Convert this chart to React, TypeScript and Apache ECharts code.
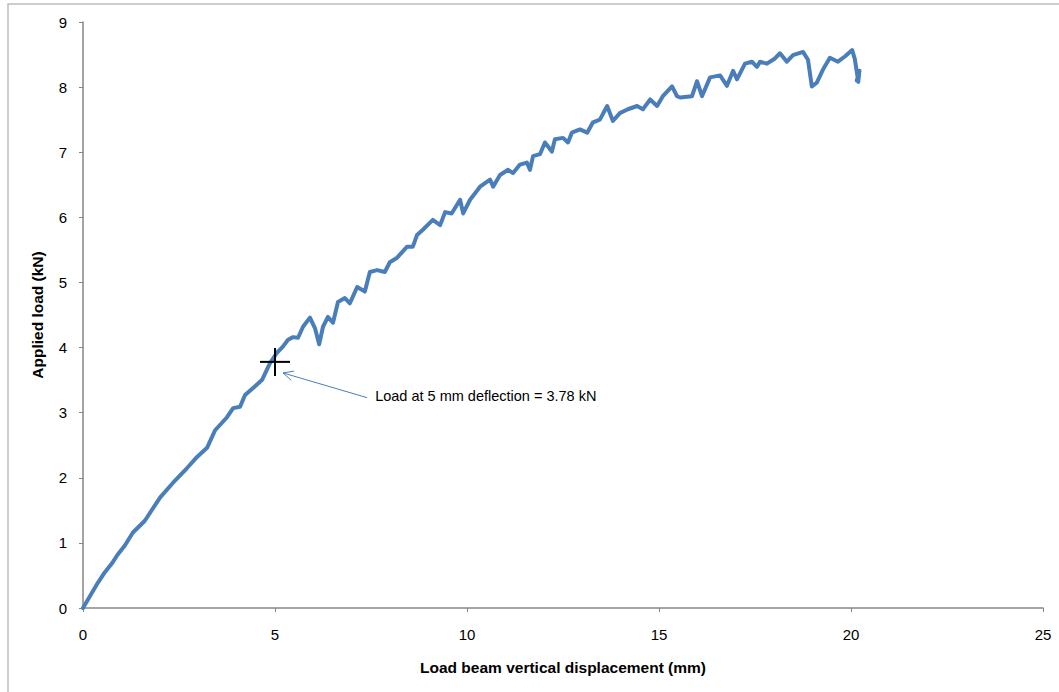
import React, { useEffect, useRef } from "react";
import * as echarts from "echarts";

const xTicks = [0, 5, 10, 15, 20, 25];
const yTicks = [0, 1, 2, 3, 4, 5, 6, 7, 8, 9];

const displacement = [
  0, 0.39, 0.57, 0.76, 0.89, 1.09, 1.3, 1.61, 2.01, 2.34, 2.71, 2.97, 3.23, 3.44, 3.75, 3.91, 4.09, 4.22, 4.43, 4.66,
  4.87, 5.05, 5.2, 5.34, 5.47, 5.6, 5.73, 5.91, 6.04, 6.15, 6.25, 6.38, 6.51, 6.64, 6.82, 6.95, 7.14, 7.34, 7.47, 7.66,
  7.86, 7.99, 8.18, 8.44, 8.59, 8.7, 8.85, 9.11, 9.3, 9.43, 9.6, 9.82, 9.9, 10.08, 10.34, 10.6, 10.68, 10.86, 11.07, 11.2,
  11.38, 11.56, 11.64, 11.72, 11.9, 12.03, 12.21, 12.29, 12.5, 12.63, 12.73, 12.94, 13.13, 13.28, 13.46, 13.65, 13.8, 13.98, 14.19, 14.43,
  14.58, 14.77, 14.95, 15.1, 15.34, 15.47, 15.55, 15.86, 15.99, 16.12, 16.33, 16.59, 16.77, 16.93, 17.03, 17.24, 17.42, 17.55, 17.63, 17.81,
  18.02, 18.15, 18.33, 18.49, 18.75, 18.88, 18.98, 19.11, 19.27, 19.45, 19.66, 19.84, 20.03, 20.1, 20.16, 20.18, 20.22, 20.15, 20.21, 20.19,
];
const load = [
  0, 0.39, 0.55, 0.69, 0.81, 0.96, 1.16, 1.34, 1.7, 1.92, 2.15, 2.32, 2.46, 2.73, 2.93, 3.07, 3.09, 3.27, 3.38, 3.5,
  3.76, 3.92, 4.01, 4.12, 4.16, 4.15, 4.32, 4.46, 4.3, 4.05, 4.32, 4.47, 4.38, 4.7, 4.76, 4.68, 4.93, 4.86, 5.16, 5.19,
  5.16, 5.31, 5.38, 5.55, 5.55, 5.73, 5.81, 5.96, 5.88, 6.08, 6.06, 6.27, 6.06, 6.27, 6.47, 6.58, 6.47, 6.65, 6.73, 6.68,
  6.81, 6.84, 6.73, 6.94, 6.97, 7.15, 7.01, 7.2, 7.22, 7.15, 7.3, 7.35, 7.3, 7.46, 7.5, 7.71, 7.48, 7.6, 7.66, 7.71,
  7.66, 7.81, 7.71, 7.86, 8.01, 7.86, 7.84, 7.86, 8.09, 7.86, 8.15, 8.18, 8.02, 8.25, 8.12, 8.36, 8.39, 8.31, 8.39, 8.36,
  8.44, 8.52, 8.39, 8.49, 8.54, 8.42, 8.01, 8.07, 8.27, 8.45, 8.39, 8.47, 8.57, 8.43, 8.2, 8.12, 8.25, 8.1, 8.2, 8.08,
];

const markerPoint = [5, 3.78];
const arrowTail = [7.4, 3.23];
const arrowTip = [5.21, 3.61];
const annotationText = "Load at 5 mm deflection = 3.78 kN";

const FONT = "'Liberation Sans', Arial, sans-serif";

export default function App() {
  const ref = useRef<HTMLDivElement>(null);
  useEffect(() => {
    if (!ref.current) return;
    const chart = echarts.init(ref.current, null, { renderer: "svg" });
    const data = displacement.map((d, i) => [d, load[i]]);
    chart.setOption({
      animation: false,
      backgroundColor: "#ffffff",
      textStyle: { fontFamily: FONT },
      grid: { left: 83, right: 16, top: 22, bottom: 84 },
      xAxis: {
        type: "value",
        min: xTicks[0],
        max: xTicks[xTicks.length - 1],
        interval: 5,
        name: "Load beam vertical displacement (mm)",
        nameLocation: "middle",
        nameGap: 51,
        nameTextStyle: { fontWeight: "bold", fontSize: 15.5, color: "#000", fontFamily: FONT },
        axisLine: { lineStyle: { color: "#868686", width: 1.5 } },
        axisTick: { length: 4, lineStyle: { color: "#868686" } },
        axisLabel: { margin: 19, fontSize: 15, color: "#000", fontFamily: FONT },
        splitLine: { show: false },
      },
      yAxis: {
        type: "value",
        min: yTicks[0],
        max: yTicks[yTicks.length - 1],
        interval: 1,
        name: "Applied load (kN)",
        nameLocation: "middle",
        nameGap: 38,
        nameRotate: 90,
        nameTextStyle: { fontWeight: "bold", fontSize: 15.5, color: "#000", fontFamily: FONT },
        axisLine: { show: true, lineStyle: { color: "#868686", width: 1.5 } },
        axisTick: { show: true, length: 4, lineStyle: { color: "#868686" } },
        axisLabel: { margin: 16, fontSize: 15, color: "#000", fontFamily: FONT },
        splitLine: { show: false },
      },
      series: [
        {
          type: "line",
          data,
          showSymbol: false,
          symbol: "none",
          lineStyle: { color: "#4a7ebb", width: 4, join: "round", cap: "round" },
        },
      ],
    });

    const p = chart.convertToPixel({ seriesIndex: 0 }, markerPoint) as number[];
    const tail = chart.convertToPixel({ seriesIndex: 0 }, arrowTail) as number[];
    const tip = chart.convertToPixel({ seriesIndex: 0 }, arrowTip) as number[];
    const ang = Math.atan2(tip[1] - tail[1], tip[0] - tail[0]);
    const headLen = 11;
    const spread = 0.45;
    const h1 = [tip[0] - headLen * Math.cos(ang - spread), tip[1] - headLen * Math.sin(ang - spread)];
    const h2 = [tip[0] - headLen * Math.cos(ang + spread), tip[1] - headLen * Math.sin(ang + spread)];

    chart.setOption({
      graphic: [
        {
          type: "rect",
          shape: { x: 8, y: 4, width: 1100, height: 720 },
          style: { fill: "none", stroke: "#bdbdbd", lineWidth: 1.5 },
          silent: true,
        },
        {
          type: "line",
          shape: { x1: p[0] - 15, y1: p[1], x2: p[0] + 15, y2: p[1] },
          style: { stroke: "#000", lineWidth: 2 },
          z: 10,
        },
        {
          type: "line",
          shape: { x1: p[0], y1: p[1] - 14, x2: p[0], y2: p[1] + 14 },
          style: { stroke: "#000", lineWidth: 2 },
          z: 10,
        },
        {
          type: "line",
          shape: { x1: tail[0], y1: tail[1], x2: tip[0], y2: tip[1] },
          style: { stroke: "#4a7ebb", lineWidth: 1 },
          z: 10,
        },
        {
          type: "polyline",
          shape: { points: [h1, tip, h2] },
          style: { stroke: "#4a7ebb", lineWidth: 1, fill: "none" },
          z: 10,
        },
        {
          type: "text",
          x: tail[0] + 8,
          y: tail[1] - 2,
          style: {
            text: annotationText,
            fontSize: 14.5,
            fontFamily: FONT,
            fill: "#000",
            textVerticalAlign: "middle",
            verticalAlign: "middle",
          },
          z: 10,
        },
      ],
    });

    return () => chart.dispose();
  }, []);
  return <div ref={ref} style={{ position: "fixed", left: 0, top: 0, width: 1059, height: 692 }} />;
}
